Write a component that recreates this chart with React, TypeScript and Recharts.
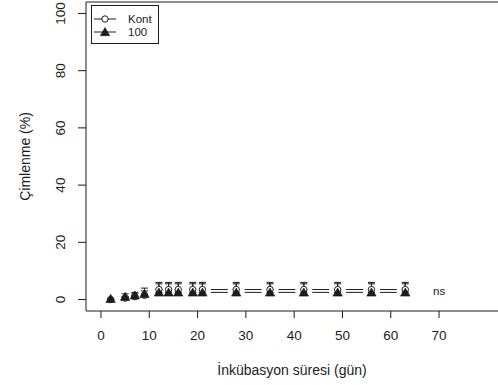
import React from 'react';
import {
  ComposedChart,
  Scatter,
  XAxis,
  YAxis,
  ErrorBar,
  ReferenceLine,
  ReferenceDot,
} from 'recharts';

// Incubation days and germination means / standard errors
const days = [2, 5, 7, 9, 12, 14, 16, 19, 21, 28, 35, 42, 49, 56, 63];
const kontMean = [0, 0.5, 1, 1.5, 3.5, 3.5, 3.5, 3.5, 3.5, 3.5, 3.5, 3.5, 3.5, 3.5, 3.5];
const kontSe = [0, 0.5, 1, 1.5, 2.5, 2.5, 2.5, 2.5, 2.5, 2.5, 2.5, 2.5, 2.5, 2.5, 2.5];
const doseMean = [0.3, 1, 1.5, 2, 2.5, 2.5, 2.5, 2.5, 2.5, 2.5, 2.5, 2.5, 2.5, 2.5, 2.5];
const doseSe = [0, 1, 1, 2, 3, 3, 3, 3, 3, 3, 3, 3, 3, 3, 3];

const xTicks = [0, 10, 20, 30, 40, 50, 60, 70];
const yTicks = [0, 20, 40, 60, 80, 100];
const seriesNames = ['Kont', '100'];
const nsNote = { day: 70, value: 3, text: 'ns' };

const X_DOMAIN: [number, number] = [-3.1, 82.2];
const Y_DOMAIN: [number, number] = [-4, 104];
// gap (in days) left open around each point, like a "both" plot type
const LINE_GAP = 1.75;

const INK = '#1c1c1c';
const FONT = '"Liberation Sans", Arial, sans-serif';
const TICK_FS = 13.5;
const TITLE_FS = 14;

const buildRows = (means: number[], ses: number[]) =>
  days.map((d, i) => ({ day: d, mean: means[i], err: [0, ses[i]] }));

const kontRows = buildRows(kontMean, kontSe);
const doseRows = buildRows(doseMean, doseSe);

const buildSegments = (means: number[]) => {
  const segs: { x1: number; y1: number; x2: number; y2: number }[] = [];
  for (let i = 0; i < days.length - 1; i++) {
    const dx = days[i + 1] - days[i];
    if (dx <= 2 * LINE_GAP) continue;
    const slope = (means[i + 1] - means[i]) / dx;
    segs.push({
      x1: days[i] + LINE_GAP,
      y1: means[i] + slope * LINE_GAP,
      x2: days[i + 1] - LINE_GAP,
      y2: means[i + 1] - slope * LINE_GAP,
    });
  }
  return segs;
};

const kontSegs = buildSegments(kontMean);
const doseSegs = buildSegments(doseMean);

const OpenCircle = (props: any) => {
  const { cx, cy } = props;
  if (cx == null || cy == null) return null;
  return <circle cx={cx} cy={cy} r={3.2} fill="#fff" stroke={INK} strokeWidth={1} />;
};

const FilledTriangle = (props: any) => {
  const { cx, cy } = props;
  if (cx == null || cy == null) return null;
  return (
    <polygon
      points={`${cx},${cy - 4.4} ${cx - 4.7},${cy + 3.7} ${cx + 4.7},${cy + 3.7}`}
      fill={INK}
      stroke={INK}
      strokeWidth={0.6}
    />
  );
};

const YTick = (props: any) => {
  const { x, y, payload } = props;
  return (
    <text
      x={x}
      y={y}
      transform={`rotate(-90 ${x} ${y})`}
      textAnchor="middle"
      dy="0.35em"
      fontSize={TICK_FS}
      fontFamily={FONT}
      fill={INK}
    >
      {payload.value}
    </text>
  );
};

const YTitle = (props: any) => {
  const vb = props.viewBox || {};
  const cx = (vb.x ?? 0) + 25;
  const cy = (vb.y ?? 0) + (vb.height ?? 0) / 2;
  return (
    <text
      x={cx}
      y={cy}
      transform={`rotate(-90 ${cx} ${cy})`}
      textAnchor="middle"
      dy="0.35em"
      fontSize={TITLE_FS}
      fontFamily={FONT}
      fill={INK}
    >
      Çimlenme (%)
    </text>
  );
};

const XTitle = (props: any) => {
  const vb = props.viewBox || {};
  const cx = (vb.x ?? 0) + (vb.width ?? 0) / 2;
  const cy = (vb.y ?? 0) + 59;
  return (
    <text
      x={cx}
      y={cy}
      textAnchor="middle"
      dy="0.35em"
      fontSize={TITLE_FS}
      fontFamily={FONT}
      fill={INK}
    >
      İnkübasyon süresi (gün)
    </text>
  );
};

const LegendBox = () => (
  <div
    style={{
      position: 'absolute',
      left: 91,
      top: 5,
      width: 66,
      height: 37,
      border: `1px solid ${INK}`,
      background: '#fff',
      zIndex: 2,
    }}
  >
    <svg width={66} height={37} style={{ display: 'block' }}>
      {seriesNames.map((name, i) => {
        const y = 13 + i * 13;
        return (
          <g key={name}>
            <line x1={2} x2={24} y1={y} y2={y} stroke={INK} strokeWidth={1} />
            {i === 0 ? <OpenCircle cx={13} cy={y} /> : <FilledTriangle cx={13} cy={y} />}
            <text x={36} y={y} dy="0.35em" fontSize={11.5} fontFamily={FONT} fill={INK}>
              {name}
            </text>
          </g>
        );
      })}
    </svg>
  </div>
);

export default function App() {
  return (
    <div style={{ position: 'absolute', left: 0, top: 0, width: 498, height: 385, background: '#fff' }}>
      <ComposedChart width={498} height={385} margin={{ top: 2, right: 0, bottom: 0, left: 0 }}>
        <XAxis
          type="number"
          dataKey="day"
          domain={X_DOMAIN}
          allowDataOverflow
          ticks={xTicks}
          height={74}
          tickSize={7}
          tickMargin={12}
          axisLine={{ stroke: INK, strokeWidth: 1 }}
          tickLine={{ stroke: INK, strokeWidth: 1 }}
          tick={{ fill: INK, fontSize: TICK_FS, fontFamily: FONT }}
          label={{ content: XTitle }}
        />
        <YAxis
          type="number"
          dataKey="mean"
          domain={Y_DOMAIN}
          allowDataOverflow
          ticks={yTicks}
          width={86}
          tickSize={8}
          tickMargin={18}
          axisLine={{ stroke: INK, strokeWidth: 1 }}
          tickLine={{ stroke: INK, strokeWidth: 1 }}
          tick={<YTick />}
          label={{ content: YTitle }}
        />
        {/* top border of the plotting box */}
        <ReferenceLine y={Y_DOMAIN[1]} stroke={INK} strokeWidth={1.2} ifOverflow="visible" />

        {kontSegs.map((s, i) => (
          <ReferenceLine
            key={`k${i}`}
            segment={[{ x: s.x1, y: s.y1 }, { x: s.x2, y: s.y2 }]}
            stroke={INK}
            strokeWidth={1}
            ifOverflow="visible"
          />
        ))}
        {doseSegs.map((s, i) => (
          <ReferenceLine
            key={`d${i}`}
            segment={[{ x: s.x1, y: s.y1 }, { x: s.x2, y: s.y2 }]}
            stroke={INK}
            strokeWidth={1}
            ifOverflow="visible"
          />
        ))}

        <Scatter name={seriesNames[0]} data={kontRows} shape={<OpenCircle />} isAnimationActive={false}>
          <ErrorBar dataKey="err" direction="y" width={3.5} stroke={INK} strokeWidth={1} />
        </Scatter>
        <Scatter name={seriesNames[1]} data={doseRows} shape={<FilledTriangle />} isAnimationActive={false}>
          <ErrorBar dataKey="err" direction="y" width={3.5} stroke={INK} strokeWidth={1} />
        </Scatter>

        <ReferenceDot
          x={nsNote.day}
          y={nsNote.value}
          r={0}
          fill="none"
          stroke="none"
          label={{ value: nsNote.text, position: 'center', fontSize: 11.5, fontFamily: FONT, fill: INK }}
        />
      </ComposedChart>
      <LegendBox />
    </div>
  );
}
